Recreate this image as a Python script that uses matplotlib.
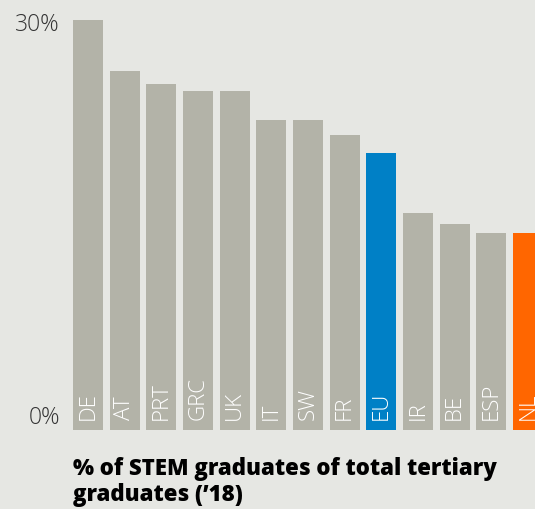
import matplotlib.pyplot as plt
import numpy as np

# share of STEM graduates among all tertiary graduates, 2018
countries = ['DE', 'AT', 'PRT', 'GRC', 'UK', 'IT', 'SW', 'FR', 'EU', 'IR', 'BE', 'ESP', 'NL']
stem_share = [30.0, 26.3, 25.3, 24.8, 24.8, 22.7, 22.7, 21.6, 20.3, 15.9, 15.1, 14.4, 14.4]

bg = '#e6e7e3'
grey = '#b3b3a8'
colors = [grey] * len(countries)
colors[countries.index('EU')] = '#0080c6'
colors[countries.index('NL')] = '#ff6600'

W, H = 535, 509
fig = plt.figure(figsize=(W / 100, H / 100), dpi=100, facecolor=bg)

# axes in pixel units horizontally, 0..30 % vertically
bottom_px, top_px = 430, 20
ax = fig.add_axes([0, (H - bottom_px) / H, 1, (bottom_px - top_px) / H])
ax.set_facecolor(bg)
ax.set_xlim(0, W)
ax.set_ylim(0, 30)

x = 73 + 36.67 * np.arange(len(countries))
ax.bar(x, stem_share, width=30, align='edge', color=colors, linewidth=0)

for xi, name in zip(x, countries):
    ax.text(xi + 15, 0.7, name, rotation=90, ha='center', va='bottom',
            color='white', fontsize=16, family='Open Sans', fontweight='light')

# y labels
ax.text(60, 29.6, '30%', ha='right', va='center', fontsize=16.5,
        color='#333333', family='Open Sans', fontweight='light')
ax.text(60, 0.9, '0%', ha='right', va='center', fontsize=16.5,
        color='#333333', family='Open Sans', fontweight='light')

ax.axis('off')

fig.text(73 / W, (H - 475) / H, '% of STEM graduates of total tertiary',
         ha='left', va='baseline', fontsize=16, fontweight='heavy',
         family='Open Sans', color='black')
fig.text(73 / W, (H - 501) / H, 'graduates (\u201918)',
         ha='left', va='baseline', fontsize=16, fontweight='heavy',
         family='Open Sans', color='black')

fig.savefig('out.png', dpi=100, facecolor=bg)
